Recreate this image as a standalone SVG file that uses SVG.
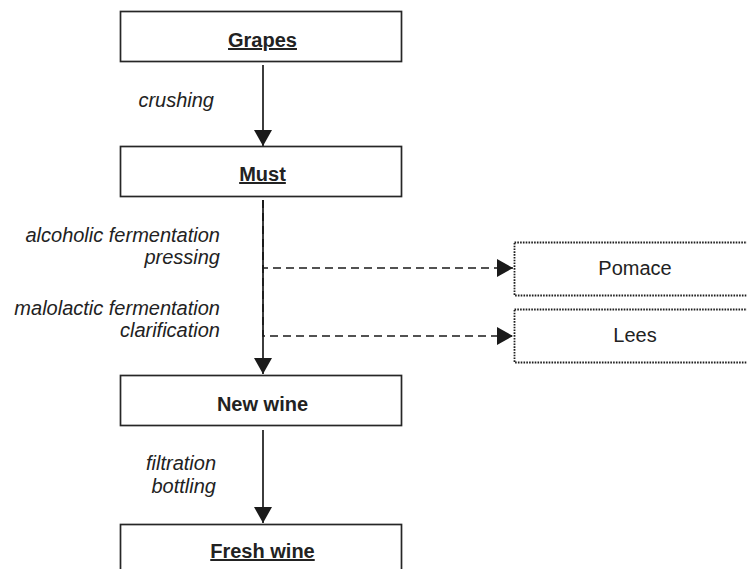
<svg xmlns="http://www.w3.org/2000/svg" width="747" height="569" viewBox="0 0 747 569">
  <defs>
    <marker id="head" viewBox="0 0 16 18" refX="16" refY="9" markerWidth="16" markerHeight="18" markerUnits="userSpaceOnUse" orient="auto">
      <path d="M0,0 L16,9 L0,18 Z" fill="#1a1a1a"/>
    </marker>
    <style>
      .box { fill: #ffffff; stroke: #262626; stroke-width: 1.7; }
      .side { fill: #ffffff; stroke: #1e1e1e; stroke-width: 1.8; stroke-dasharray: 1.6 1.2; }
      .title { font-family: "Liberation Sans", Arial, sans-serif; font-size: 20px; font-weight: bold; fill: #222; text-anchor: middle; }
      .ul { text-decoration: underline; }
      .plain { font-family: "Liberation Sans", Arial, sans-serif; font-size: 20px; fill: #222; text-anchor: middle; }
      .step { font-family: "Liberation Sans", Arial, sans-serif; font-size: 20px; font-style: italic; fill: #222; text-anchor: end; }
      .flow { fill: none; stroke: #1a1a1a; stroke-width: 1.7; marker-end: url(#head); }
      .waste { fill: none; stroke: #1a1a1a; stroke-width: 1.7; stroke-dasharray: 8 5; marker-end: url(#head); }
    </style>
  </defs>

  <!-- process steps between stages -->
  <g id="step-labels">
    <text class="step" x="214" y="107">crushing</text>
    <text class="step" x="220" y="242">alcoholic fermentation</text>
    <text class="step" x="220" y="264">pressing</text>
    <text class="step" x="220" y="315">malolactic fermentation</text>
    <text class="step" x="220" y="337">clarification</text>
    <text class="step" x="216" y="470">filtration</text>
    <text class="step" x="216" y="493">bottling</text>
  </g>

  <!-- connectors -->
  <g id="connectors">
    <path class="waste" d="M263,200 V268 H513"/>
    <path class="waste" d="M263,200 V336 H513"/>
    <path class="flow" d="M263,65 V146"/>
    <path class="flow" d="M263,200 V374"/>
    <path class="flow" d="M263,430 V523"/>
  </g>

  <g id="grapes">
    <rect class="box" x="120.5" y="11.5" width="281" height="50"/>
    <text class="title ul" x="262.5" y="47">Grapes</text>
  </g>

  <g id="must">
    <rect class="box" x="120.5" y="146.5" width="281" height="50"/>
    <text class="title ul" x="262.5" y="181">Must</text>
  </g>

  <g id="new-wine">
    <rect class="box" x="120.5" y="375.5" width="281" height="50"/>
    <text class="title" x="262.5" y="411">New wine</text>
  </g>

  <g id="fresh-wine">
    <rect class="box" x="120.5" y="524.5" width="281" height="50"/>
    <text class="title ul" x="262.5" y="558">Fresh wine</text>
  </g>

  <g id="pomace">
    <rect class="side" x="514.5" y="242.5" width="242" height="53"/>
    <text class="plain" x="635" y="275">Pomace</text>
  </g>

  <g id="lees">
    <rect class="side" x="514.5" y="309.5" width="242" height="53"/>
    <text class="plain" x="635" y="342">Lees</text>
  </g>
</svg>
